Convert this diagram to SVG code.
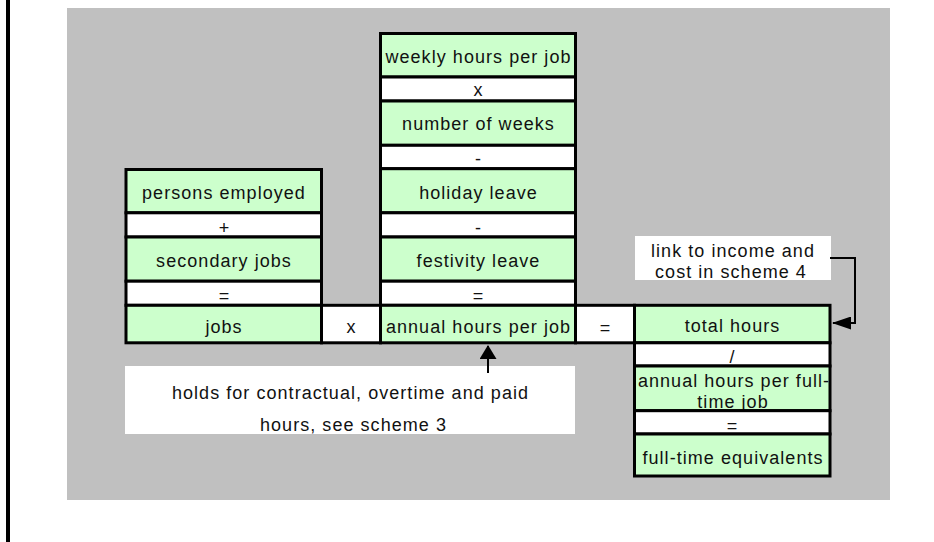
<svg xmlns="http://www.w3.org/2000/svg" width="934" height="542" viewBox="0 0 934 542">
<defs>
<style>
.g{fill:#CCFFCC;stroke:#000;stroke-width:3}
.w{fill:#FFFFFF;stroke:#000;stroke-width:3}
text{font-family:"Liberation Sans",Arial,sans-serif;font-size:18px;letter-spacing:1.05px;fill:#111;text-anchor:middle}
.op{letter-spacing:0}
.con{fill:none;stroke:#000;stroke-width:2}
</style>
<marker id="ah" markerWidth="19" markerHeight="13" viewBox="0 0 19 13" refX="18" refY="6.5" markerUnits="userSpaceOnUse" orient="auto">
<path d="M0,0 L19,6.5 L0,13 Z" fill="#000"/>
</marker>
<marker id="ah2" markerWidth="14" markerHeight="17" viewBox="0 0 14 17" refX="13" refY="8.5" markerUnits="userSpaceOnUse" orient="auto">
<path d="M0,0 L14,8.5 L0,17 Z" fill="#000"/>
</marker>
</defs>
<rect x="67" y="8" width="823" height="492" fill="#C0C0C0"/>
<line x1="8" y1="0" x2="8" y2="542" stroke="#000" stroke-width="4"/>

<g id="persons-employed"><rect class="g" x="126" y="169.5" width="195.5" height="43.3"/><text x="224" y="199.3">persons employed</text></g>
<g id="op-plus"><rect class="w" x="126" y="212.8" width="195.5" height="24.2"/><text class="op" x="224" y="234">+</text></g>
<g id="secondary-jobs"><rect class="g" x="126" y="237" width="195.5" height="44.2"/><text x="224" y="266.7">secondary jobs</text></g>
<g id="op-eq-left"><rect class="w" x="126" y="281.2" width="195.5" height="24.1"/><text class="op" x="224" y="302">=</text></g>
<g id="jobs"><rect class="g" x="126" y="305.3" width="195.5" height="37.5"/><text x="224" y="332.7">jobs</text></g>
<g id="op-times-row"><rect class="w" x="321.5" y="305.3" width="59" height="37.5"/><text class="op" x="351" y="332.7">x</text></g>

<g id="weekly-hours"><rect class="g" x="380.5" y="33.5" width="195" height="43.5"/><text x="478.5" y="62.7">weekly hours per job</text></g>
<g id="op-times"><rect class="w" x="380.5" y="77" width="195" height="24"/><text class="op" x="478" y="95.5">x</text></g>
<g id="number-of-weeks"><rect class="g" x="380.5" y="101" width="195" height="44.3"/><text x="478.5" y="130">number of weeks</text></g>
<g id="op-minus-1"><rect class="w" x="380.5" y="145.3" width="195" height="23.4"/><text class="op" x="478" y="165">-</text></g>
<g id="holiday-leave"><rect class="g" x="380.5" y="168.7" width="195" height="44.1"/><text x="478.5" y="199">holiday leave</text></g>
<g id="op-minus-2"><rect class="w" x="380.5" y="212.8" width="195" height="24.2"/><text class="op" x="478" y="233.5">-</text></g>
<g id="festivity-leave"><rect class="g" x="380.5" y="237" width="195" height="44.2"/><text x="478.5" y="266.7">festivity leave</text></g>
<g id="op-eq-mid"><rect class="w" x="380.5" y="281.2" width="195" height="24.1"/><text class="op" x="478" y="302">=</text></g>
<g id="annual-hours"><rect class="g" x="380.5" y="305.3" width="195" height="37.5"/><text x="478.5" y="332.7">annual hours per job</text></g>
<g id="op-eq-row"><rect class="w" x="575.5" y="305.3" width="59" height="37.5"/><text class="op" x="605" y="333.5">=</text></g>

<g id="total-hours"><rect class="g" x="634.5" y="305.3" width="195.5" height="37.5"/><text x="732.5" y="331.7">total hours</text></g>
<g id="op-divide"><rect class="w" x="634.5" y="342.8" width="195.5" height="23.2"/><text class="op" x="732" y="363">/</text></g>
<g id="annual-hours-ft"><rect class="g" x="634.5" y="366" width="195.5" height="44.7"/><text x="734" y="386.7">annual hours per full-</text><text x="733" y="408.3">time job</text></g>
<g id="op-eq-right"><rect class="w" x="634.5" y="410.7" width="195.5" height="23.3"/><text class="op" x="732" y="432">=</text></g>
<g id="full-time-equivalents"><rect class="g" x="634.5" y="434" width="195.5" height="42"/><text x="733" y="464">full-time equivalents</text></g>

<g id="link-note"><rect x="635" y="236" width="196" height="44" fill="#FFFFFF"/><text x="733" y="256.7">link to income and</text><text x="731" y="278.3">cost in scheme 4</text></g>
<g id="holds-note"><rect x="125" y="366" width="450" height="68" fill="#FFFFFF"/><text x="350.5" y="399">holds for contractual, overtime and paid</text><text x="353.5" y="430.7">hours, see scheme 3</text></g>

<g id="connectors">
<polyline class="con" points="830,258 855,258 855,323 833,323" marker-end="url(#ah)"/>
<line class="con" x1="488" y1="373" x2="488" y2="346" marker-end="url(#ah2)"/>
</g>
</svg>
